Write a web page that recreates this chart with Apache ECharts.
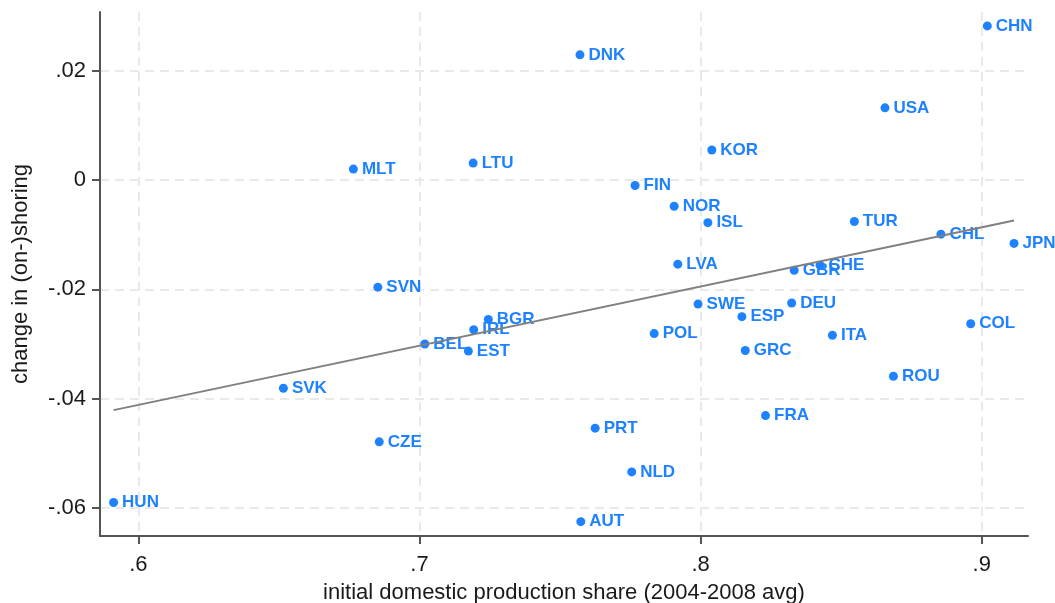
<!DOCTYPE html>
<html>
<head>
<meta charset="utf-8">
<title>Domestic production share vs. change in (on-)shoring</title>
<script src="https://cdn.jsdelivr.net/npm/echarts@6/dist/echarts.min.js"></script>
<style>
  html, body { margin: 0; padding: 0; background: #fff; }
  #chart { width: 1055px; height: 603px; }
</style>
</head>
<body>
<div id="chart"></div>
<script>
// Countries, initial domestic production share (x) and change in (on-)shoring (y)
const countries = ['HUN','SVK','CZE','SVN','MLT','BEL','EST','IRL','LTU','BGR',
  'DNK','AUT','PRT','NLD','FIN','POL','NOR','LVA','SWE','ISL',
  'KOR','ESP','GRC','FRA','DEU','GBR','CHE','ITA','TUR','USA',
  'ROU','CHL','COL','CHN','JPN'];
const domesticShare = [0.5912,0.6516,0.6857,0.6852,0.6765,0.7019,0.7174,0.7193,0.7191,0.7245,
  0.7571,0.7574,0.7625,0.7755,0.7767,0.7835,0.7906,0.7919,0.7991,0.8026,
  0.8040,0.8147,0.8159,0.8231,0.8324,0.8333,0.8425,0.8469,0.8547,0.8656,
  0.8686,0.8855,0.8961,0.9020,0.9115];
const onshoringChange = [-0.0590,-0.0381,-0.0479,-0.0196,0.0020,-0.0300,-0.0313,-0.0274,0.0031,-0.0255,
  0.0229,-0.0625,-0.0454,-0.0534,-0.0010,-0.0281,-0.0048,-0.0154,-0.0227,-0.0078,
  0.0055,-0.0250,-0.0312,-0.0431,-0.0225,-0.0165,-0.0156,-0.0284,-0.0076,0.0132,
  -0.0359,-0.0099,-0.0263,0.0282,-0.0116];

// Linear fit, drawn between its two end points
const fitX = [0.5912, 0.9115];
const fitY = [-0.0421, -0.0074];

// Axis ticks and their printed labels
const xTicks = [0.6, 0.7, 0.8, 0.9];
const xTickLabels = ['.6', '.7', '.8', '.9'];
const yTicks = [-0.06, -0.04, -0.02, 0, 0.02];
const yTickLabels = ['-.06', '-.04', '-.02', '0', '.02'];

const xRange = [0.58637, 0.91647];
const yRange = [-0.06513, 0.03074];

const FONT = '"Liberation Sans", Arial, Helvetica, sans-serif';
const BLUE = '#1E82FF';
const INK = '#1a1a1a';

function tickText(ticks, labels) {
  return function (v) {
    for (let i = 0; i < ticks.length; i++) {
      if (Math.abs(ticks[i] - v) < 1e-9) return labels[i];
    }
    return '';
  };
}

const gridLine = { show: true, lineStyle: { color: '#e9e9e9', width: 2, type: [9, 6] } };

const chart = echarts.init(document.getElementById('chart'), null, { renderer: 'canvas' });
chart.setOption({
  animation: false,
  backgroundColor: '#ffffff',
  grid: { left: 100, right: 27, top: 12, bottom: 67, containLabel: false, outerBoundsMode: 'none' },
  xAxis: {
    type: 'value',
    min: xRange[0], max: xRange[1],
    name: 'initial domestic production share (2004-2008 avg)',
    nameLocation: 'middle',
    nameGap: 46,
    nameTextStyle: { fontFamily: FONT, fontSize: 22, color: INK },
    axisLine: { show: true, onZero: false, lineStyle: { color: '#555', width: 2 } },
    axisTick: { show: true, length: 8, customValues: xTicks, lineStyle: { color: '#555', width: 2 } },
    axisLabel: { customValues: xTicks, formatter: tickText(xTicks, xTickLabels), margin: 18,
      fontFamily: FONT, fontSize: 22, color: INK },
    splitLine: gridLine
  },
  yAxis: {
    type: 'value',
    min: yRange[0], max: yRange[1],
    name: 'change in (on-)shoring',
    nameLocation: 'middle',
    nameGap: 68,
    nameRotate: 90,
    nameTextStyle: { fontFamily: FONT, fontSize: 22, color: INK },
    axisLine: { show: true, onZero: false, lineStyle: { color: '#555', width: 2 } },
    axisTick: { show: true, length: 8, customValues: yTicks, lineStyle: { color: '#555', width: 2 } },
    axisLabel: { customValues: yTicks, formatter: tickText(yTicks, yTickLabels), margin: 14,
      fontFamily: FONT, fontSize: 22, color: INK },
    splitLine: gridLine
  },
  series: [
    {
      type: 'scatter',
      symbol: 'circle',
      symbolSize: 9,
      itemStyle: { color: BLUE, opacity: 1 },
      label: {
        show: true,
        position: 'right',
        distance: 4,
        formatter: '{b}',
        color: BLUE,
        fontFamily: FONT,
        fontSize: 17,
        fontWeight: 'bold'
      },
      data: countries.map((c, i) => ({ name: c, value: [domesticShare[i], onshoringChange[i]] })),
      z: 2
    },
    {
      type: 'line',
      symbol: 'none',
      lineStyle: { color: '#808080', width: 2 },
      data: fitX.map((x, i) => [x, fitY[i]]),
      z: 3
    }
  ]
});
</script>
</body>
</html>
